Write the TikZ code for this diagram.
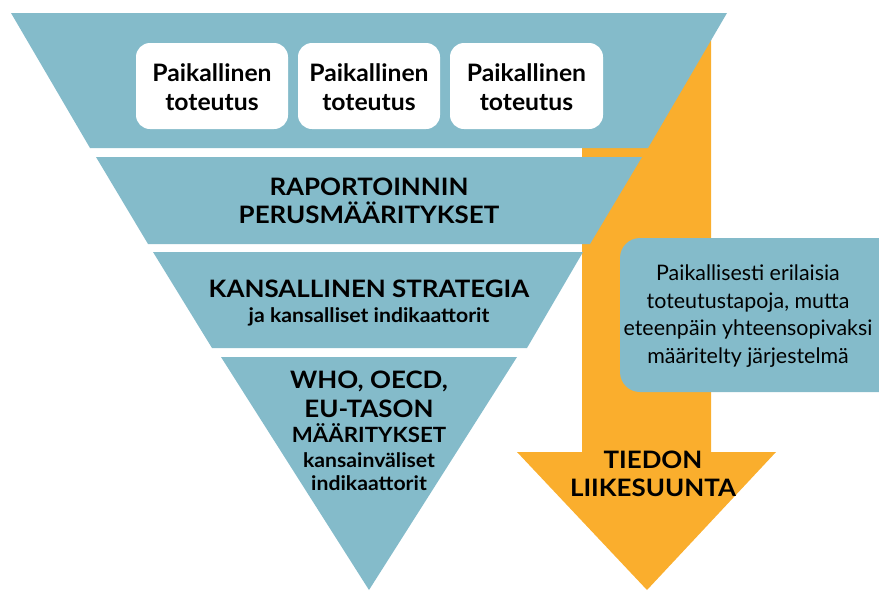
\documentclass[tikz,border=0pt]{standalone}
\usepackage{fontspec}
\setmainfont{Lato}
\definecolor{funnel}{RGB}{132,187,202}
\definecolor{flow}{RGB}{250,174,45}
\begin{document}
\begin{tikzpicture}[x=1pt,y=-1pt,
  tier/.style={fill=funnel},
  localbox/.style={fill=white,rounded corners=14pt,minimum height=86pt,inner sep=0pt},
  notebox/.style={fill=funnel,rounded corners=20pt},
  lbl/.style={anchor=base,inner sep=0pt,text=black},
  boxtext/.style={lbl,font=\fontsize{24}{28}\selectfont\bfseries,xscale=1.03,transform shape},
  big/.style={lbl,font=\fontsize{24}{28}\selectfont\bfseries,xscale=1.08,transform shape},
  mid/.style={lbl,font=\fontsize{21}{24}\selectfont\bfseries,xscale=1.06,transform shape},
  small/.style={lbl,font=\fontsize{20}{22}\selectfont\bfseries,xscale=1.06,transform shape},
  note/.style={lbl,font=\fontsize{21.4}{24}\selectfont}]
\useasboundingbox (0,0) rectangle (879,590);

% direction arrow behind the funnel
\fill[flow] (582,20) -- (711,20) -- (711,452) -- (776,452) -- (647,590)
  -- (517,452) -- (582,452) -- cycle;

% funnel tiers
\fill[tier] (11,13) -- (727,13) -- (648,148) -- (90,148) -- cycle;
\fill[tier] (96,157) -- (642,157) -- (590,244) -- (148,244) -- cycle;
\fill[tier] (153,252) -- (583,252) -- (527,348) -- (212,348) -- cycle;
\fill[tier] (221,357) -- (517,357) -- (369,590) -- cycle;

% local implementation boxes
\node[localbox,minimum width=152pt] (b1) at (212,86) {};
\node[localbox,minimum width=142pt] (b2) at (369,86) {};
\node[localbox,minimum width=153pt] (b3) at (526.5,86) {};
\node[boxtext] (b1a) at (212,81) {Paikallinen};
\node[boxtext] (b1b) at (212,110) {toteutus};
\node[boxtext] (b2a) at (369,81) {Paikallinen};
\node[boxtext] (b2b) at (369,110) {toteutus};
\node[boxtext] (b3a) at (526.5,81) {Paikallinen};
\node[boxtext] (b3b) at (526.5,110) {toteutus};

% tier labels
\node[big] (r1) at (369,195) {RAPORTOINNIN};
\node[big] (r2) at (369,223) {PERUSMÄÄRITYKSET};
\node[big] (k1) at (369,297) {KANSALLINEN STRATEGIA};
\node[small] (k2) at (369,322) {ja kansalliset indikaattorit};
\node[big] (w1) at (369,388) {WHO, OECD,};
\node[big] (w2) at (369,417) {EU-TASON};
\node[mid] (w3) at (369,442) {MÄÄRITYKSET};
\node[small] (w4) at (369,467) {kansainväliset};
\node[small] (w5) at (369,490) {indikaattorit};

% arrow label
\node[big] (t1) at (653,468) {TIEDON};
\node[big] (t2) at (653,496) {LIIKESUUNTA};

% side note
\fill[notebox] (620,238) rectangle (900,392);
\node[note] (n1) at (748,280) {Paikallisesti erilaisia};
\node[note] (n2) at (748,308) {toteutustapoja, mutta};
\node[note] (n3) at (748,335) {eteenpäin yhteensopivaksi};
\node[note] (n4) at (748,363) {määritelty järjestelmä};
\end{tikzpicture}
\end{document}
